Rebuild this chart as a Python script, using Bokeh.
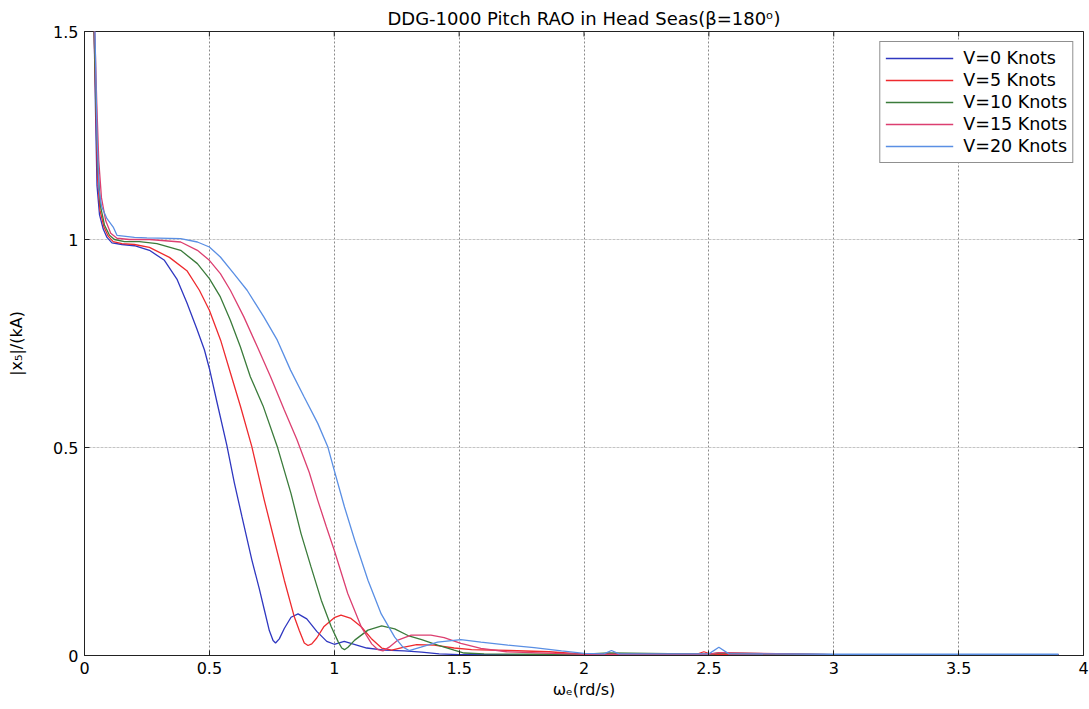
import math
from bokeh.plotting import figure
from bokeh.models import Range1d, FixedTicker
from bokeh.embed import file_html
from bokeh.resources import INLINE

# ---------------- data ----------------
title_text = "DDG-1000 Pitch RAO in Head Seas(\u03b2=180\u1d52)"
x_label = "\u03c9\u2091(rd/s)"
y_label = "|x\u2085|/(kA)"

x_ticks = [0, 0.5, 1, 1.5, 2, 2.5, 3, 3.5, 4]
x_tick_labels = ["0", "0.5", "1", "1.5", "2", "2.5", "3", "3.5", "4"]
y_ticks = [0, 0.5, 1, 1.5]
y_tick_labels = ["0", "0.5", "1", "1.5"]

series_names = ["V=0 Knots", "V=5 Knots", "V=10 Knots", "V=15 Knots", "V=20 Knots"]
series_colors = ["#2f37c0", "#ee2a2e", "#3b7b3b", "#dc3f70", "#5a8fe4"]

w_v0 = [0.03, 0.035, 0.04, 0.045, 0.05, 0.06, 0.075, 0.09, 0.11, 0.15, 0.2, 0.26, 0.32, 0.37,
        0.41, 0.45, 0.48, 0.5, 0.53, 0.57, 0.6, 0.63, 0.67, 0.7, 0.72, 0.74, 0.755, 0.765,
        0.78, 0.8, 0.827, 0.855, 0.89, 0.93, 0.97, 1.0, 1.04, 1.08, 1.13, 1.2, 1.28, 1.35,
        1.42, 1.5, 1.7, 2.0, 2.1, 2.13, 2.5, 2.54, 3.0, 3.5, 3.9]
rao_v0 = [1.8, 1.6, 1.45, 1.28, 1.13, 1.06, 1.025, 1.005, 0.992, 0.988, 0.985, 0.974, 0.95,
          0.905, 0.848, 0.785, 0.735, 0.69, 0.61, 0.505, 0.415, 0.335, 0.23, 0.16, 0.11,
          0.06, 0.036, 0.03, 0.04, 0.065, 0.092, 0.1, 0.088, 0.058, 0.034, 0.027, 0.034, 0.027,
          0.018, 0.013, 0.011, 0.008, 0.004, 0.002, 0.002, 0.002, 0.004, 0.002, 0.002, 0.004,
          0.002, 0.002, 0.002]

w_v5 = [0.03, 0.035, 0.04, 0.046, 0.052, 0.062, 0.078, 0.095, 0.115, 0.15, 0.2, 0.26, 0.34,
        0.41, 0.46, 0.5, 0.545, 0.585, 0.625, 0.67, 0.72, 0.76, 0.8, 0.84, 0.86, 0.88, 0.895,
        0.91, 0.93, 0.958, 1.0, 1.027, 1.067, 1.108, 1.148, 1.19, 1.23, 1.28, 1.33, 1.4, 1.48,
        1.55, 1.7, 1.86, 2.0, 2.3, 2.45, 2.48, 2.51, 3.0, 3.5, 3.9]
rao_v5 = [1.8, 1.6, 1.46, 1.3, 1.15, 1.07, 1.03, 1.008, 0.995, 0.99, 0.988, 0.981, 0.957,
          0.925, 0.878, 0.83, 0.758, 0.678, 0.598, 0.502, 0.373, 0.277, 0.181, 0.093, 0.06,
          0.03, 0.024, 0.028, 0.042, 0.069, 0.091, 0.097, 0.089, 0.069, 0.041, 0.018, 0.013,
          0.02, 0.026, 0.025, 0.018, 0.014, 0.012, 0.009, 0.003, 0.003, 0.003, 0.009, 0.003,
          0.002, 0.002, 0.002]

w_v10 = [0.03, 0.035, 0.04, 0.047, 0.054, 0.064, 0.08, 0.1, 0.12, 0.16, 0.22, 0.29, 0.385,
         0.452, 0.5, 0.544, 0.584, 0.624, 0.664, 0.715, 0.772, 0.827, 0.867, 0.907, 0.948,
         0.988, 1.015, 1.03, 1.041, 1.055, 1.082, 1.135, 1.19, 1.242, 1.295, 1.35, 1.414, 1.48,
         1.52, 1.6, 1.8, 2.0, 2.1, 2.5, 2.54, 3.0, 3.5, 3.9]
rao_v10 = [1.8, 1.62, 1.47, 1.31, 1.17, 1.08, 1.035, 1.01, 1.0, 0.995, 0.995, 0.99, 0.974,
           0.942, 0.906, 0.862, 0.806, 0.742, 0.67, 0.6, 0.502, 0.389, 0.293, 0.213, 0.133,
           0.069, 0.034, 0.018, 0.014, 0.02, 0.037, 0.061, 0.071, 0.064, 0.048, 0.038, 0.025,
           0.013, 0.006, 0.004, 0.003, 0.003, 0.006, 0.003, 0.006, 0.002, 0.002, 0.002]

w_v15 = [0.03, 0.036, 0.042, 0.049, 0.057, 0.068, 0.085, 0.105, 0.13, 0.18, 0.26, 0.385,
         0.452, 0.5, 0.544, 0.584, 0.638, 0.692, 0.745, 0.8, 0.85, 0.9, 0.934, 0.968, 1.0,
         1.054, 1.108, 1.15, 1.175, 1.195, 1.22, 1.255, 1.308, 1.387, 1.44, 1.507, 1.587, 1.69,
         1.88, 2.0, 2.5, 2.54, 3.0, 3.5, 3.9]
rao_v15 = [1.8, 1.62, 1.48, 1.33, 1.19, 1.1, 1.045, 1.015, 1.003, 1.0, 1.0, 0.994, 0.974, 0.95,
           0.918, 0.878, 0.814, 0.742, 0.67, 0.59, 0.52, 0.44, 0.373, 0.31, 0.253, 0.149, 0.069,
           0.028, 0.014, 0.011, 0.02, 0.037, 0.049, 0.049, 0.043, 0.029, 0.017, 0.009, 0.005,
           0.003, 0.003, 0.007, 0.002, 0.002, 0.002]

w_v20 = [0.03, 0.036, 0.042, 0.05, 0.058, 0.068, 0.09, 0.115, 0.13, 0.2, 0.25, 0.385, 0.452,
         0.5, 0.544, 0.598, 0.651, 0.718, 0.772, 0.825, 0.879, 0.934, 0.974, 1.0, 1.041, 1.082,
         1.135, 1.188, 1.242, 1.275, 1.3, 1.347, 1.414, 1.507, 1.587, 1.695, 1.8, 1.91, 2.0,
         2.08, 2.11, 2.14, 2.5, 2.54, 2.58, 3.0, 3.5, 3.9]
rao_v20 = [1.8, 1.64, 1.5, 1.25, 1.12, 1.08, 1.05, 1.03, 1.01, 1.005, 1.004, 1.002, 0.994,
           0.982, 0.958, 0.918, 0.878, 0.814, 0.758, 0.686, 0.622, 0.558, 0.502, 0.445, 0.357,
           0.277, 0.181, 0.1, 0.044, 0.02, 0.012, 0.02, 0.032, 0.038, 0.032, 0.025, 0.019,
           0.011, 0.005, 0.004, 0.012, 0.004, 0.004, 0.02, 0.004, 0.003, 0.003, 0.003]

series_w = [w_v0, w_v5, w_v10, w_v15, w_v20]
series_rao = [rao_v0, rao_v5, rao_v10, rao_v15, rao_v20]

# ---------------- figure ----------------
FONT = "DejaVu Sans"
DARK = "#222222"

p = figure(width=1089, height=709, output_backend="svg", toolbar_location=None,
           x_range=Range1d(0, 4), y_range=Range1d(0, 1.5),
           min_border_left=84, min_border_right=6, min_border_top=31, min_border_bottom=54)
p.background_fill_color = "white"
p.border_fill_color = "white"
p.outline_line_color = DARK
p.outline_line_width = 1

p.title.text = title_text
p.title.align = "center"
p.title.text_font = FONT
p.title.text_font_size = "18px"
p.title.text_font_style = "normal"
p.title.text_color = "black"
p.title.standoff = 5

for w, r, name, col in zip(series_w, series_rao, series_names, series_colors):
    p.line(w, r, line_color=col, line_width=1.3, legend_label=name)

xt = FixedTicker(ticks=x_ticks)
yt = FixedTicker(ticks=y_ticks)

for ax, ticks, labels in ((p.xaxis[0], x_ticks, x_tick_labels), (p.yaxis[0], y_ticks, y_tick_labels)):
    ax.ticker = FixedTicker(ticks=ticks)
    ax.major_label_overrides = {t: s for t, s in zip(ticks, labels)}
    ax.axis_line_color = DARK
    ax.major_tick_in = 5
    ax.major_tick_out = 0
    ax.minor_tick_in = 0
    ax.minor_tick_out = 0
    ax.major_tick_line_color = DARK
    ax.major_label_text_font = FONT
    ax.major_label_text_font_size = "16px"
    ax.major_label_text_color = "black"
    ax.major_label_standoff = 6
    ax.axis_label_text_font = FONT
    ax.axis_label_text_font_size = "16px"
    ax.axis_label_text_font_style = "normal"
    ax.axis_label_text_color = "black"

p.xaxis[0].axis_label = x_label
p.xaxis[0].axis_label_standoff = 3
p.yaxis[0].axis_label = y_label
p.yaxis[0].axis_label_standoff = 24

# inward tick marks on the top and right edges of the box (clipped to the frame)
p.scatter(x_ticks, [1.5] * len(x_ticks), marker="dash", angle=math.pi / 2, size=10,
          line_color=DARK, line_width=1)
p.scatter([4] * len(y_ticks), y_ticks, marker="dash", size=10, line_color=DARK, line_width=1)

p.xgrid.ticker = xt
p.ygrid.ticker = yt
p.xgrid.grid_line_color = "#8a8a8a"
p.xgrid.grid_line_dash = "2 2"
p.xgrid.grid_line_width = 1
p.ygrid.grid_line_color = "#c4c4c4"
p.ygrid.grid_line_dash = "3 1"
p.ygrid.grid_line_width = 1

lg = p.legend[0]
lg.location = "top_right"
lg.border_line_color = DARK
lg.border_line_width = 1
lg.background_fill_color = "white"
lg.background_fill_alpha = 1
lg.label_text_font = FONT
lg.label_text_font_size = "17.5px"
lg.label_text_color = "black"
lg.glyph_width = 68
lg.glyph_height = 22
lg.label_height = 22
lg.spacing = 0
lg.padding = 5
lg.margin = 10
lg.label_standoff = 10

open("out.html", "w").write(file_html(p, INLINE))
